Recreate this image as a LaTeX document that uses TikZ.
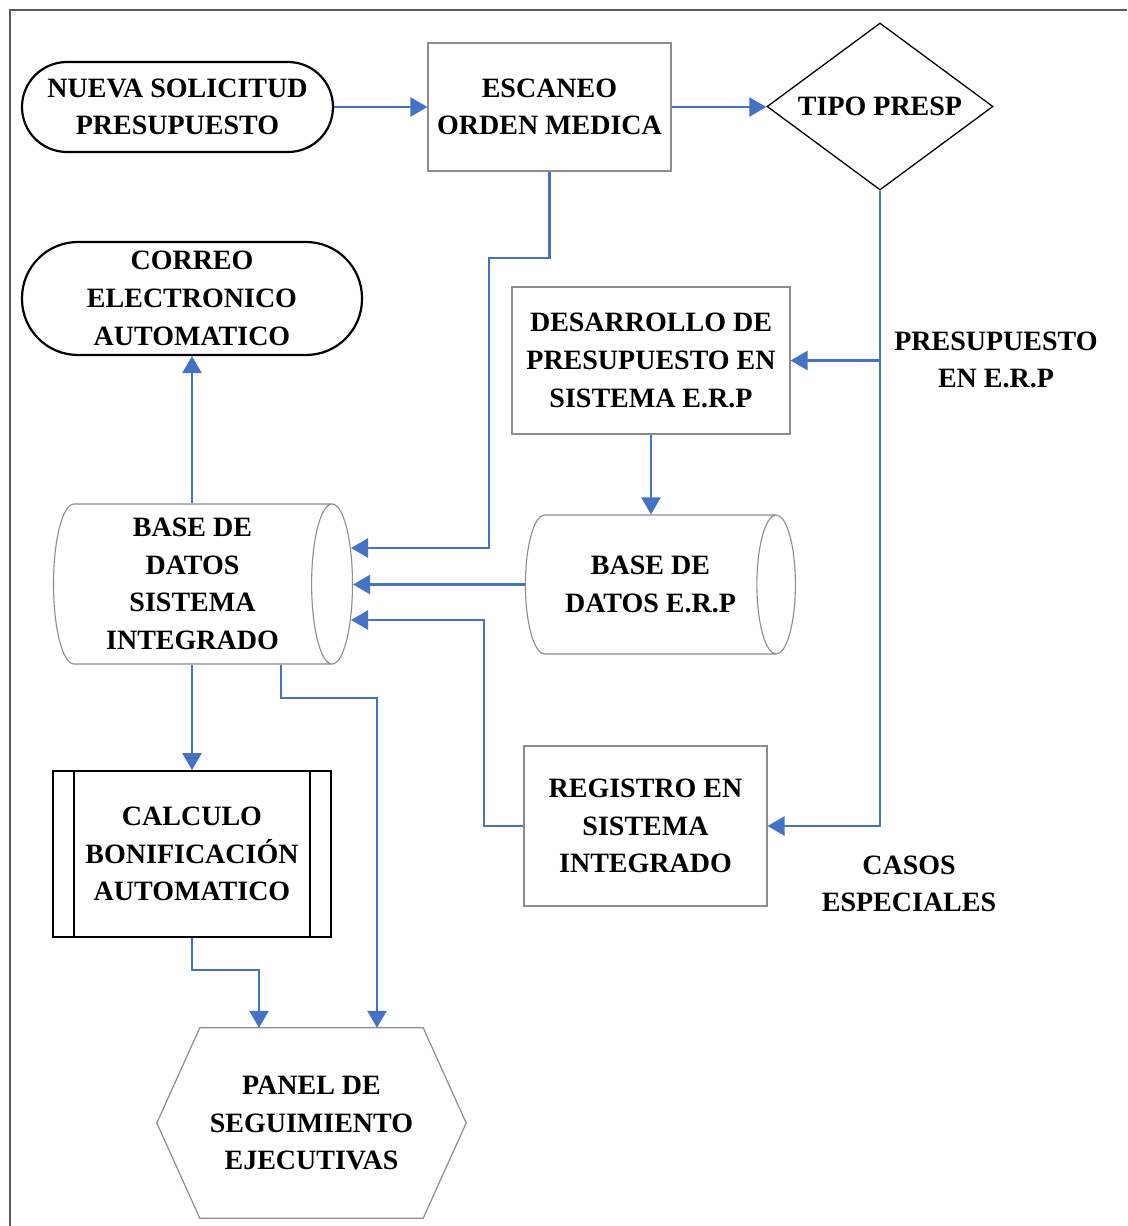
\documentclass[tikz,border=0pt]{standalone}
\usepackage{fontspec}
\setmainfont{Liberation Serif}
\usetikzlibrary{arrows.meta, positioning, calc, shapes.geometric}
\definecolor{FlowBlue}{HTML}{4472C4}
\definecolor{BoxGray}{HTML}{8C8C8C}
\definecolor{FrameGray}{HTML}{5A5A5A}
\newcommand{\flowfont}{\fontsize{28}{37.7}\selectfont\bfseries}
\tikzset{
  terminal/.style={draw=black, line width=2.2pt, rounded corners=45pt, fill=white, align=center, minimum width=311pt, minimum height=90pt, inner sep=0pt, font=\flowfont},
  process/.style={draw=BoxGray, line width=1.1pt, fill=white, align=center, inner sep=0pt, font=\flowfont},
  decision/.style={diamond, draw=black, line width=1.3pt, aspect=1.35, fill=white, align=center, minimum width=226pt, minimum height=167pt, inner sep=2pt, font=\flowfont},
  database/.style={cylinder, draw=BoxGray, line width=1.1pt, shape aspect=0.6, fill=white, align=center, inner sep=0pt, font=\flowfont},
  subprocess/.style={draw=black, line width=1.8pt, fill=white, align=center, minimum width=278pt, minimum height=166pt, inner sep=0pt, font=\flowfont},
  display/.style={align=center, minimum width=309pt, minimum height=190pt, inner sep=0pt, font=\flowfont},
  hexedge/.style={draw=BoxGray, line width=1.2pt},
  note/.style={align=center, inner sep=0pt, font=\flowfont},
  frame/.style={draw=FrameGray, line width=1.6pt},
  arrow/.style={-{Triangle[length=17pt, width=19pt]}, line width=2.7pt, draw=FlowBlue},
}

\begin{document}
\begin{tikzpicture}[x=1pt, y=-1pt]
\useasboundingbox (0,0) rectangle (1127,1226);
\draw[frame] (10,1226) -- (10,10) -- (1127,10);

\node[terminal] (nueva) at (177.5,107) {NUEVA SOLICITUD\\PRESUPUESTO};
\node[process, minimum width=243pt, minimum height=128pt] (escaneo) at (549.5,107) {ESCANEO\\ORDEN MEDICA};
\node[decision] (tipo) at (880,106.5) {TIPO PRESP};
\node[terminal, minimum width=340pt, minimum height=113pt, rounded corners=56pt] (correo) at (192,298.5) {CORREO\\ELECTRONICO\\AUTOMATICO};
\node[process, minimum width=278pt, minimum height=147pt] (desarrollo) at (651,360.5) {DESARROLLO DE\\PRESUPUESTO EN\\SISTEMA E.R.P};
\node[database, shape aspect=0.31, minimum height=299pt, minimum width=160pt] (bdsi) at (192.5,584) {BASE DE\\DATOS\\SISTEMA\\INTEGRADO};
\node[database, shape aspect=0.68, minimum height=270pt, minimum width=139pt] (bderp) at (650.5,584.5) {BASE DE\\DATOS E.R.P};
\node[process, minimum width=243pt, minimum height=160pt] (registro) at (645.5,826) {REGISTRO EN\\SISTEMA\\INTEGRADO};
\node[subprocess] (calculo) at (192,854) {CALCULO\\BONIFICACIÓN\\AUTOMATICO};
\node[display] (panel) at (311.5,1123) {PANEL DE\\SEGUIMIENTO\\EJECUTIVAS};

% side bars and hexagon outline
\draw[black, line width=1.5pt] ([xshift=22pt]calculo.north west) -- ([xshift=22pt]calculo.south west);
\draw[black, line width=1.5pt] ([xshift=-22pt]calculo.north east) -- ([xshift=-22pt]calculo.south east);
\draw[hexedge] ([xshift=43pt]panel.north west) -- ([xshift=-43pt]panel.north east) -- (panel.east)
  -- ([xshift=-43pt]panel.south east) -- ([xshift=43pt]panel.south west) -- (panel.west) -- cycle;

\node[note] (erplabel) at (996,360) {PRESUPUESTO\\EN E.R.P};
\node[note] (casos) at (909,884) {CASOS\\ESPECIALES};

\coordinate (bendA) at (489,258);
\coordinate (bendB) at (484,620);
\coordinate (bendC) at (259,970);
\coordinate (bendD) at (377,698);
\coordinate (bendE) at (281,698);

\draw[arrow] (nueva) -- (escaneo);
\draw[arrow] (escaneo.east) -- (escaneo.east -| tipo.west);
\draw[arrow] (tipo.south) |- (registro.east);
\draw[arrow] (tipo.south |- desarrollo.east) -- (desarrollo.east);
\draw[arrow] (escaneo.south) |- (bendA) |- ($(bdsi.east)+(-2,-36)$);
\draw[arrow] (desarrollo.south) -- (desarrollo.south |- bderp.north);
\draw[arrow] (bderp.west) -- (bderp.west -| bdsi.east);
\draw[arrow] (registro.west) -| (bendB) -- ($(bdsi.east)+(-2,36)$);
\draw[arrow] (correo.south |- bdsi.north) -- (correo.south);
\draw[arrow] (calculo.north |- bdsi.south) -- (calculo.north);
\draw[arrow] (calculo.south) |- (bendC) -- (bendC |- panel.north);
\draw[arrow] (bdsi.south -| bendE) -- (bendE) -- (bendD) -- (bendD |- panel.north);
\end{tikzpicture}
\end{document}
